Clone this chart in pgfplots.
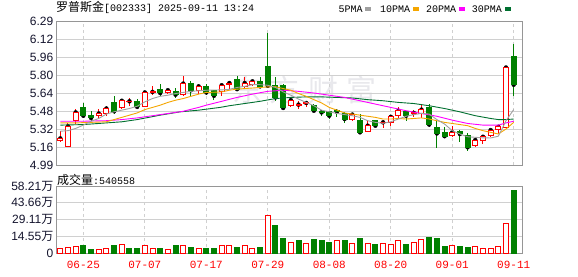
\documentclass[border=0pt]{standalone}
\usepackage{pgfplots}
\pgfplotsset{compat=1.18}
\usepackage{pgfplotstable}
\usepackage{fontspec}
\setmainfont{Liberation Sans}
\newfontfamily\cjk{Noto Sans CJK SC}
\newfontfamily\mono{Liberation Mono}
\definecolor{upred}{RGB}{255,0,0}
\definecolor{dngreen}{RGB}{0,128,0}
\definecolor{maA}{RGB}{160,160,160}
\definecolor{maB}{RGB}{245,166,0}
\definecolor{maC}{RGB}{255,0,255}
\definecolor{maD}{RGB}{0,112,48}
\definecolor{gridc}{RGB}{208,208,208}
\definecolor{framec}{RGB}{150,150,150}
\definecolor{labc}{RGB}{20,20,45}
\definecolor{wmark}{RGB}{232,232,236}

\pgfplotstableread{
i o h l c
0 5.21 5.30 5.20 5.23
1 5.16 5.37 5.16 5.34
2 5.39 5.495 5.36 5.465
5 5.44 5.495 5.405 5.455
6 5.456 5.525 5.435 5.50
8 5.51 5.585 5.495 5.57
9 5.56 5.595 5.525 5.565
11 5.515 5.65 5.51 5.645
12 5.64 5.70 5.625 5.65
14 5.645 5.675 5.635 5.665
16 5.625 5.79 5.615 5.725
18 5.665 5.72 5.635 5.70
21 5.655 5.725 5.615 5.71
22 5.72 5.75 5.68 5.73
24 5.70 5.78 5.675 5.73
25 5.72 5.76 5.705 5.745
30 5.525 5.595 5.51 5.575
31 5.53 5.57 5.495 5.535
32 5.545 5.565 5.51 5.55
38 5.40 5.46 5.385 5.445
40 5.295 5.395 5.285 5.345
42 5.37 5.395 5.325 5.375
43 5.375 5.445 5.345 5.425
44 5.435 5.51 5.415 5.48
46 5.455 5.49 5.42 5.46
47 5.455 5.535 5.415 5.49
51 5.255 5.345 5.24 5.285
54 5.17 5.245 5.15 5.215
55 5.21 5.255 5.18 5.245
56 5.26 5.315 5.24 5.305
57 5.31 5.345 5.27 5.335
58 5.325 5.875 5.315 5.87
}\upcandles

\pgfplotstableread{
i o h l c
3 5.51 5.55 5.415 5.435
4 5.435 5.48 5.39 5.415
7 5.555 5.615 5.45 5.475
10 5.565 5.585 5.495 5.515
13 5.675 5.72 5.615 5.64
15 5.65 5.685 5.595 5.625
17 5.725 5.745 5.61 5.665
19 5.70 5.72 5.625 5.645
20 5.66 5.665 5.575 5.615
23 5.765 5.79 5.665 5.675
26 5.745 5.78 5.695 5.70
27 5.878 6.18 5.69 5.705
28 5.705 5.785 5.57 5.60
29 5.71 5.72 5.485 5.505
33 5.525 5.545 5.475 5.48
34 5.47 5.49 5.435 5.465
35 5.47 5.475 5.405 5.435
36 5.478 5.495 5.425 5.47
37 5.455 5.465 5.365 5.405
39 5.39 5.45 5.27 5.285
41 5.39 5.395 5.34 5.345
45 5.47 5.475 5.385 5.435
48 5.505 5.545 5.33 5.355
49 5.325 5.395 5.14 5.275
50 5.285 5.33 5.23 5.25
52 5.29 5.305 5.195 5.27
53 5.255 5.275 5.115 5.15
59 5.97 6.08 5.615 5.715
}\dncandles

\pgfplotstableread{
i v
0 4.3
1 4.9
2 5.7
5 3.4
6 4.3
8 7.7
11 6.6
12 4.3
14 3.4
16 6.6
18 4.3
21 6.6
22 6.6
24 6.6
25 4.3
27 32.4
30 9.2
32 8.6
36 11.2
38 8.6
40 8.6
42 8.6
43 7.7
44 10.6
46 9.5
47 12.1
51 6.6
54 5.7
55 4.0
56 4.3
57 6.0
58 25.8
}\upvol

\pgfplotstableread{
i v
3 6.3
4 3.4
7 6.3
9 3.7
10 4.3
13 4.3
15 6.3
17 5.2
19 3.7
20 4.3
23 5.2
26 5.2
28 23.5
29 12.9
31 10.6
33 11.5
34 10.6
35 9.5
37 10.6
39 12.3
41 7.7
45 7.7
48 13.8
49 12.9
50 6.0
52 6.0
53 5.2
59 54.06
}\dnvol

\pgfplotsset{
  panel/.style={scale only axis, width=466pt, xmin=-0.56, xmax=60.08, anchor=south west},
  price/.style={panel, at={(56pt,111pt)}, height=144pt, ymin=4.99, ymax=6.29},
  vol/.style={panel, at={(56pt,23pt)}, height=67pt, ymin=0, ymax=58.21},
}

\begin{document}
\begin{tikzpicture}[x=1pt,y=1pt]
\fill[white] (0,0) rectangle (578,276);
\useasboundingbox (0,0) rectangle (578,276);

% watermark
\begin{scope}[every node/.style={text=wmark, font=\cjk\fontsize{30}{32}\selectfont, inner sep=0pt}]
\node at (247,186) {东};
\node at (284,186) {方};
\node at (323,186) {财};
\node at (361,186) {富};
\end{scope}

% title and legend
\node[anchor=base west, inner sep=0pt, text=black] at (56,264.5)
  {\cjk\fontsize{12}{14}\selectfont 罗普斯金\mono\fontsize{10}{12}\selectfont [002333] 2025-09-11 13:24};
\begin{scope}[every node/.style={anchor=base west, inner sep=0pt, font=\mono\fontsize{10}{12}\selectfont}]
\node at (338.3,263.5) {5PMA};
\fill[maA] (365,265.3) rectangle (371,268.7);
\node at (380,263.5) {10PMA};
\fill[maB] (413,265.3) rectangle (419,268.7);
\node at (426,263.5) {20PMA};
\fill[maC] (458.5,265.3) rectangle (464.5,268.7);
\node at (471.7,263.5) {30PMA};
\fill[maD] (505,265.3) rectangle (511,268.7);
\end{scope}
\node[anchor=base west, inner sep=0pt] at (57,91.5)
  {\cjk\fontsize{12}{14}\selectfont 成交量\mono\fontsize{10}{12}\selectfont :540558};

% price panel: frame, grid, wicks
\begin{axis}[price,
  axis line style={framec},
  xtick={3,11,19,27,35,43,51,59}, xticklabels={},
  ytick={4.99,5.1525,5.315,5.4775,5.64,5.8025,5.965,6.1275,6.29},
  yticklabels={4.99,5.16,5.32,5.48,5.64,5.80,5.96,6.12,6.29},
  major tick length=0pt,
  xmajorgrids, ymajorgrids,
  x grid style={gridc, dashed, line width=0.8pt},
  y grid style={gridc, line width=0.8pt},
  yticklabel style={font=\fontsize{12}{14}\selectfont, text=labc, inner sep=2.5pt},
]
\addplot[only marks, mark=none,
  error bars/.cd, y dir=both, y explicit, error mark=none,
  error bar style={draw=upred, line width=1pt, solid}]
  table[x=i, y=c, y error plus expr=\thisrow{h}-\thisrow{c}, y error minus expr=\thisrow{c}-\thisrow{l}] {\upcandles};
\addplot[only marks, mark=none,
  error bars/.cd, y dir=both, y explicit, error mark=none,
  error bar style={draw=dngreen, line width=1pt, solid}]
  table[x=i, y=c, y error plus expr=\thisrow{h}-\thisrow{c}, y error minus expr=\thisrow{c}-\thisrow{l}] {\dncandles};
\end{axis}

% up bodies
\begin{axis}[price, hide axis, ybar stacked, bar width=5pt]
\addplot[draw=none, fill=none] table[x=i, y=o] {\upcandles};
\addplot[draw=upred, fill=white, line width=1pt] table[x=i, y expr=\thisrow{c}-\thisrow{o}] {\upcandles};
\end{axis}

% down bodies
\begin{axis}[price, hide axis, ybar stacked, bar width=5pt]
\addplot[draw=none, fill=none] table[x=i, y=c] {\dncandles};
\addplot[draw=dngreen, fill=dngreen, line width=1pt] table[x=i, y expr=\thisrow{o}-\thisrow{c}] {\dncandles};
\end{axis}

% moving averages
\begin{axis}[price, hide axis]
\addplot[maD, line width=0.9pt, no marks] coordinates {
(0,5.35) (3,5.355) (6,5.37) (8,5.38) (10,5.40) (13,5.44) (15.6,5.47) (18,5.485) (20.8,5.51)
(22,5.525) (24,5.545) (26,5.565) (28,5.59) (30,5.60) (32,5.605) (34,5.605) (36,5.60)
(38,5.595) (40,5.58) (42,5.57) (44,5.555) (46,5.545) (48,5.525) (50,5.50) (52,5.47)
(54,5.435) (56,5.41) (57,5.40) (58,5.40) (59,5.405)};
\addplot[maC, line width=0.9pt, no marks] coordinates {
(0,5.385) (3,5.385) (6,5.39) (8,5.40) (10,5.415) (12,5.435) (14,5.455) (16,5.475)
(18,5.51) (19,5.53) (21,5.565) (23,5.60) (25,5.63) (27,5.655) (29,5.665) (31,5.655)
(33,5.64) (35,5.62) (37,5.60) (39,5.57) (41,5.54) (43,5.51) (45,5.48) (47,5.455)
(49,5.43) (51,5.395) (53,5.365) (55,5.35) (57,5.35) (58,5.37) (59,5.385)};
\addplot[maB, line width=0.9pt, no marks] coordinates {
(0,5.37) (2,5.37) (4,5.375) (6,5.38) (7,5.40) (8,5.42) (9,5.44) (10,5.46) (11,5.49)
(12,5.51) (13,5.53) (14,5.555) (15,5.575) (16,5.59) (17,5.61) (18,5.63) (19,5.645)
(20,5.647) (21,5.65) (22,5.665) (23,5.675) (24,5.68) (25,5.685) (26,5.69) (27,5.695)
(28,5.697) (29,5.68) (30,5.665) (31,5.635) (32,5.61) (33,5.58) (34,5.55) (35,5.51)
(36,5.485) (37,5.46) (38,5.45) (39,5.44) (40,5.43) (41,5.42) (42,5.405) (43,5.405)
(44,5.41) (45,5.405) (46,5.41) (47,5.415) (48,5.405) (49,5.39) (50,5.375) (51,5.365)
(52,5.355) (53,5.345) (54,5.32) (55,5.30) (56,5.285) (57,5.27) (58,5.315) (59,5.375)};
\addplot[maA, line width=0.9pt, no marks] coordinates {
(0,5.295) (1,5.30) (2,5.32) (3,5.35) (4,5.385) (5,5.41) (6,5.45) (7,5.47) (8,5.485)
(9,5.50) (10,5.52) (11,5.56) (12,5.59) (13,5.61) (14,5.62) (15,5.635) (16,5.645)
(17,5.655) (18,5.66) (19,5.665) (20,5.667) (21,5.668) (22,5.673) (23,5.69) (24,5.70)
(25,5.715) (26,5.715) (27,5.71) (28,5.69) (29,5.65) (30,5.62) (31,5.585) (32,5.555)
(33,5.525) (34,5.485) (35,5.47) (36,5.455) (37,5.445) (38,5.435) (39,5.42) (40,5.39)
(41,5.375) (42,5.366) (43,5.38) (44,5.405) (45,5.43) (46,5.445) (47,5.456) (48,5.45)
(49,5.40) (50,5.36) (51,5.30) (52,5.27) (53,5.245) (54,5.24) (55,5.235) (56,5.234)
(57,5.25) (58,5.39) (59,5.49)};
\end{axis}

% volume panel
\begin{axis}[vol,
  axis line style={framec},
  xtick={3,11,19,27,35,43,51,59},
  xticklabels={06-25,07-07,07-17,07-29,08-08,08-20,09-01,09-11},
  ytick={0,14.55,29.11,43.66,58.21},
  yticklabels={0,14.55{\cjk 万},29.11{\cjk 万},43.66{\cjk 万},58.21{\cjk 万}},
  major tick length=0pt,
  xmajorgrids, ymajorgrids,
  x grid style={gridc, dashed, line width=0.8pt},
  y grid style={gridc, line width=0.8pt},
  yticklabel style={font=\fontsize{12}{14}\selectfont, text=labc, inner sep=2.5pt},
  xticklabel style={font=\mono\fontsize{11}{13}\selectfont, text=upred, inner sep=0pt, yshift=-8pt},
  ybar, bar shift=0pt, bar width=5pt,
]
\addplot[draw=upred, fill=white, line width=1pt] table[x=i, y=v] {\upvol};
\addplot[draw=dngreen, fill=dngreen, line width=1pt] table[x=i, y=v] {\dnvol};
\end{axis}
\end{tikzpicture}
\end{document}
